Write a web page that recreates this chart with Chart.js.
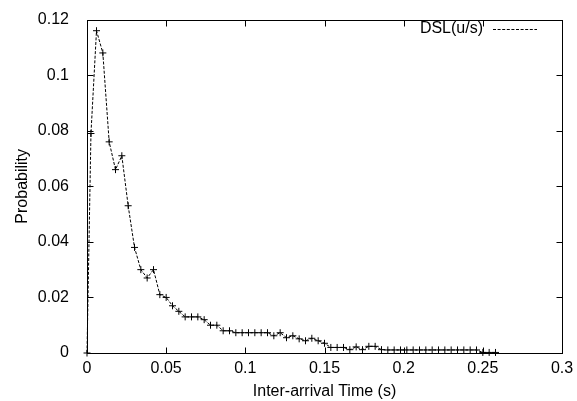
<!DOCTYPE html>
<html>
<head>
<meta charset="utf-8">
<script src="https://cdn.jsdelivr.net/npm/chart.js@4"></script>
<style>
  html, body { margin: 0; padding: 0; background: #fff; }
  #wrap { width: 577px; height: 401px; }
</style>
</head>
<body>
<div id="wrap"><canvas id="chart" width="577" height="401"></canvas></div>
<script>
// ======================
// DATA
// ======================
const seriesName = "DSL(u/s)";

const interArrival = [
  0, 0.0025, 0.006, 0.010, 0.014, 0.018, 0.022, 0.026, 0.030, 0.034, 0.038,
  0.042, 0.046, 0.050, 0.054, 0.058, 0.062, 0.066, 0.070, 0.074, 0.078,
  0.082, 0.086, 0.090, 0.094, 0.098, 0.102, 0.106, 0.110, 0.114, 0.118,
  0.122, 0.126, 0.130, 0.134, 0.138, 0.142, 0.146, 0.150, 0.154, 0.158,
  0.162, 0.166, 0.170, 0.174, 0.178, 0.182, 0.186, 0.190, 0.194, 0.198,
  0.202, 0.206, 0.210, 0.214, 0.218, 0.222, 0.226, 0.230, 0.234, 0.238,
  0.242, 0.246, 0.250, 0.254, 0.258
];

const probability = [
  0, 0.079, 0.116, 0.108, 0.076, 0.066, 0.071, 0.053, 0.038, 0.030, 0.027,
  0.030, 0.021, 0.020, 0.017, 0.015, 0.013, 0.013, 0.013, 0.012, 0.010,
  0.010, 0.008, 0.008, 0.0073, 0.0073, 0.0073, 0.0073, 0.0073, 0.0073, 0.0062,
  0.0073, 0.0055, 0.0062, 0.0051, 0.0044, 0.0053, 0.0044, 0.0035, 0.002, 0.002,
  0.002, 0.0012, 0.0022, 0.0012, 0.0024, 0.0024, 0.0012, 0.0011, 0.0011, 0.0011,
  0.0011, 0.0011, 0.0011, 0.0011, 0.0011, 0.0011, 0.0011, 0.0011, 0.0011, 0.0011,
  0.0011, 0.0011, 0.0002, 0.0002, 0.0002
];

const xTickValues = [0, 0.05, 0.1, 0.15, 0.2, 0.25, 0.3];
const xTickLabels = ["0", "0.05", "0.1", "0.15", "0.2", "0.25", "0.3"];
const yTickValues = [0, 0.02, 0.04, 0.06, 0.08, 0.1, 0.12];
const yTickLabels = ["0", "0.02", "0.04", "0.06", "0.08", "0.1", "0.12"];

const FONT = "'Liberation Sans', Arial, Helvetica, sans-serif";

// ======================
// FRAME + INWARD TICKS + KEY (gnuplot look)
// ======================
const gnuFrame = {
  id: "gnuFrame",
  beforeDatasetsDraw(chart) {
    const { ctx, chartArea: a, scales } = chart;
    const L = Math.round(a.left) + 0.5, R = Math.round(a.right) + 0.5;
    const T = Math.round(a.top) + 0.5, B = Math.round(a.bottom) + 0.5;
    const len = 6;
    ctx.save();
    ctx.strokeStyle = "#000";
    ctx.lineWidth = 1;
    ctx.strokeRect(L, T, R - L, B - T);
    ctx.beginPath();
    xTickValues.forEach(v => {
      const px = Math.round(scales.x.getPixelForValue(v)) + 0.5;
      ctx.moveTo(px, B); ctx.lineTo(px, B - len);
      ctx.moveTo(px, T); ctx.lineTo(px, T + len);
    });
    yTickValues.forEach(v => {
      const py = Math.round(scales.y.getPixelForValue(v)) + 0.5;
      ctx.moveTo(L, py); ctx.lineTo(L + len, py);
      ctx.moveTo(R, py); ctx.lineTo(R - len, py);
    });
    ctx.stroke();

    // key, top right
    ctx.fillStyle = "#000";
    ctx.font = "16px " + FONT;
    ctx.textAlign = "right";
    ctx.textBaseline = "middle";
    ctx.fillText(seriesName, 483, 29);
    ctx.setLineDash([3, 1.6]);
    ctx.beginPath();
    ctx.moveTo(493, 29.5);
    ctx.lineTo(537, 29.5);
    ctx.stroke();
    ctx.restore();
  }
};

// ======================
// CHART
// ======================
new Chart(document.getElementById("chart"), {
  type: "scatter",
  data: {
    datasets: [{
      label: seriesName,
      data: interArrival.map((x, i) => ({ x: x, y: probability[i] })),
      showLine: true,
      borderColor: "#000",
      borderWidth: 1,
      borderDash: [3, 1.6],
      tension: 0,
      pointStyle: "cross",
      pointRadius: 3.5,
      pointBorderWidth: 1,
      pointBorderColor: "#000",
      pointBackgroundColor: "#000",
      clip: false
    }]
  },
  options: {
    responsive: false,
    animation: false,
    devicePixelRatio: 1,
    layout: { padding: { top: 17, right: 15, left: 0, bottom: 0 } },
    plugins: {
      legend: { display: false },
      tooltip: { enabled: false }
    },
    scales: {
      x: {
        type: "linear",
        min: 0,
        max: 0.3,
        afterBuildTicks: s => { s.ticks = xTickValues.map(v => ({ value: v })); },
        afterFit: s => { s.height = 48; },
        grid: { display: false },
        border: { display: false },
        ticks: {
          color: "#000",
          font: { family: FONT, size: 16 },
          padding: -2,
          maxRotation: 0,
          autoSkip: false,
          callback: (v, i) => xTickLabels[i]
        },
        title: {
          display: true,
          text: "Inter-arrival Time (s)",
          color: "#000",
          font: { family: FONT, size: 16 },
          padding: { top: 0, bottom: 0 }
        }
      },
      y: {
        type: "linear",
        min: 0,
        max: 0.12,
        afterBuildTicks: s => { s.ticks = yTickValues.map(v => ({ value: v })); },
        afterFit: s => { s.width = 87; },
        grid: { display: false },
        border: { display: false },
        ticks: {
          color: "#000",
          font: { family: FONT, size: 16 },
          padding: 10,
          autoSkip: false,
          callback: (v, i) => yTickLabels[i]
        },
        title: {
          display: true,
          text: "Probability",
          color: "#000",
          font: { family: FONT, size: 16 },
          padding: { top: 13, bottom: 0 }
        }
      }
    }
  },
  plugins: [gnuFrame]
});
</script>
</body>
</html>
